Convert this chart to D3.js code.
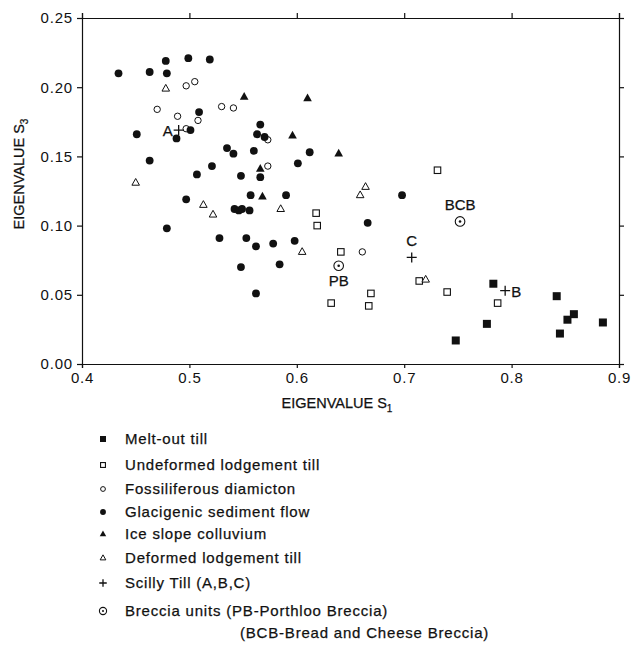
<!DOCTYPE html>
<html>
<head>
<meta charset="utf-8">
<script src="https://cdn.jsdelivr.net/npm/d3@7"></script>
<style>
  body { margin: 0; background: #fff; }
  svg { font-family: "Liberation Sans", Arial, sans-serif; }
  .axis path, .axis line { stroke: #111; stroke-width: 1.2; }
  .axis text { font-size: 15px; fill: #111; letter-spacing: 0.8px; }
  .lbl { fill: #111; stroke: #111; stroke-width: 0.25px; }
</style>
</head>
<body>
<div id="chart"></div>
<script>
// eigenvalue pairs [S1, S3]
var meltOut = [[0.783, 0.058], [0.777, 0.029], [0.748, 0.017], [0.842, 0.049],
  [0.845, 0.022], [0.852, 0.032], [0.858, 0.036], [0.885, 0.030]];

var undeformed = [[0.731, 0.140], [0.618, 0.109], [0.619, 0.100], [0.641, 0.081],
  [0.714, 0.060], [0.740, 0.052], [0.669, 0.051], [0.632, 0.044], [0.667, 0.042],
  [0.787, 0.044]];

var fossiliferous = [[0.470, 0.184], [0.497, 0.201], [0.505, 0.204], [0.489, 0.179],
  [0.508, 0.176], [0.497, 0.170], [0.530, 0.186], [0.541, 0.185], [0.573, 0.162],
  [0.573, 0.143], [0.661, 0.081]];

var glacigenic = [[0.434, 0.210], [0.463, 0.211], [0.478, 0.219], [0.479, 0.210],
  [0.499, 0.221], [0.519, 0.220], [0.509, 0.182], [0.501, 0.169], [0.488, 0.163],
  [0.451, 0.166], [0.463, 0.147], [0.566, 0.173], [0.563, 0.166], [0.570, 0.164],
  [0.535, 0.156], [0.541, 0.152], [0.560, 0.154], [0.521, 0.143], [0.507, 0.137],
  [0.548, 0.136], [0.566, 0.135], [0.612, 0.153], [0.601, 0.145], [0.497, 0.119],
  [0.479, 0.098], [0.542, 0.112], [0.546, 0.111], [0.549, 0.112], [0.556, 0.111],
  [0.557, 0.122], [0.528, 0.091], [0.553, 0.091], [0.562, 0.085], [0.548, 0.070],
  [0.562, 0.051], [0.590, 0.122], [0.698, 0.122], [0.666, 0.102], [0.578, 0.087],
  [0.598, 0.089], [0.584, 0.072]];

var iceSlope = [[0.551, 0.193], [0.566, 0.141], [0.610, 0.192], [0.596, 0.165],
  [0.639, 0.152], [0.568, 0.121]];

var deformed = [[0.478, 0.199], [0.450, 0.131], [0.513, 0.115], [0.522, 0.108],
  [0.664, 0.128], [0.659, 0.122], [0.585, 0.112], [0.605, 0.081], [0.720, 0.061]];

var scilly = [[0.490, 0.169], [0.794, 0.053], [0.707, 0.077]];
var scillyNames = ["A", "B", "C"];

var breccia = [[0.639, 0.071], [0.752, 0.103]];
var brecciaNames = ["PB", "BCB"];

var xTicks = [0.4, 0.5, 0.6, 0.7, 0.8, 0.9];
var yTicks = [0.00, 0.05, 0.10, 0.15, 0.20, 0.25];

var legendNames = ["Melt-out till", "Undeformed lodgement till", "Fossiliferous diamicton",
  "Glacigenic sediment flow", "Ice slope colluvium", "Deformed lodgement till",
  "Scilly Till (A,B,C)", "Breccia units  (PB-Porthloo Breccia)"];
var legendExtra = "(BCB-Bread and Cheese Breccia)";

var series = [
  { data: meltOut, sym: "fsquare" },
  { data: undeformed, sym: "osquare" },
  { data: fossiliferous, sym: "ocircle" },
  { data: glacigenic, sym: "fcircle" },
  { data: iceSlope, sym: "ftri" },
  { data: deformed, sym: "otri" },
  { data: scilly, sym: "plus" },
  { data: breccia, sym: "breccia" }
];

var W = 631, H = 645;
var margin = { top: 18, left: 82 },
    width = 537,
    height = 346;

var svg = d3.select("#chart").append("svg")
  .attr("width", W)
  .attr("height", H);

var g = svg.append("g")
  .attr("transform", "translate(" + margin.left + "," + margin.top + ")");

var x = d3.scaleLinear().domain([0.4, 0.9]).range([0, width]);
var y = d3.scaleLinear().domain([0, 0.25]).range([height, 0]);

// axes: ticks all point outward, labels only on left and bottom
g.append("g")
  .attr("class", "axis")
  .attr("transform", "translate(0," + height + ")")
  .call(d3.axisBottom(x).tickValues(xTicks).tickFormat(d3.format(".1f")).tickSize(4).tickPadding(4));

g.append("g")
  .attr("class", "axis")
  .call(d3.axisLeft(y).tickValues(yTicks).tickFormat(d3.format(".2f")).tickSize(5).tickPadding(4));

g.append("g")
  .attr("class", "axis")
  .call(d3.axisTop(x).tickValues(xTicks).tickFormat("").tickSize(5));

g.append("g")
  .attr("class", "axis")
  .attr("transform", "translate(" + width + ",0)")
  .call(d3.axisRight(y).tickValues(yTicks).tickFormat("").tickSize(5));

// axis titles
var xt = svg.append("text")
  .attr("class", "lbl")
  .attr("x", 337)
  .attr("y", 408)
  .attr("text-anchor", "middle")
  .style("font-size", "14.5px");
xt.append("tspan").text("EIGENVALUE  S");
xt.append("tspan").attr("dy", 4).style("font-size", "10px").text("1");

var yt = svg.append("text")
  .attr("class", "lbl")
  .attr("transform", "translate(24,174) rotate(-90)")
  .attr("text-anchor", "middle")
  .style("font-size", "14.5px");
yt.append("tspan").text("EIGENVALUE  S");
yt.append("tspan").attr("dy", 4).style("font-size", "10px").text("3");

// marker drawing
function marker(sel, sym, s) {
  var ink = "#111";
  if (sym === "fcircle") {
    sel.append("circle").attr("r", 3.9 * s).attr("fill", ink);
  } else if (sym === "ocircle") {
    sel.append("circle").attr("r", 3.2 * s).attr("fill", "#fff").attr("stroke", ink).attr("stroke-width", 1);
  } else if (sym === "fsquare") {
    var a = 8 * s;
    sel.append("rect").attr("x", -a / 2).attr("y", -a / 2).attr("width", a).attr("height", a).attr("fill", ink);
  } else if (sym === "osquare") {
    var b = 6.5 * s;
    sel.append("rect").attr("x", -b / 2).attr("y", -b / 2).attr("width", b).attr("height", b)
      .attr("fill", "#fff").attr("stroke", ink).attr("stroke-width", 1.1);
  } else if (sym === "ftri") {
    var t = 4.8 * s;
    sel.append("path").attr("d", "M0," + (-t) + "L" + (t * 0.9) + "," + (t * 0.6) + "L" + (-t * 0.9) + "," + (t * 0.6) + "Z")
      .attr("fill", ink);
  } else if (sym === "otri") {
    var u = 4.2 * s;
    sel.append("path").attr("d", "M0," + (-u) + "L" + (u * 0.9) + "," + (u * 0.6) + "L" + (-u * 0.9) + "," + (u * 0.6) + "Z")
      .attr("fill", "#fff").attr("stroke", ink).attr("stroke-width", 1);
  } else if (sym === "plus") {
    var p = 5 * s;
    sel.append("path").attr("d", "M" + (-p) + ",0H" + p + "M0," + (-p) + "V" + p)
      .attr("stroke", ink).attr("stroke-width", 1.3);
  } else if (sym === "breccia") {
    sel.append("circle").attr("r", 4.8 * s).attr("fill", "#fff").attr("stroke", ink).attr("stroke-width", 1.1);
    sel.append("circle").attr("r", 1.3 * s).attr("fill", ink);
  }
}

// points
series.forEach(function(sr) {
  g.selectAll(null)
    .data(sr.data)
    .enter().append("g")
    .attr("transform", function(d) { return "translate(" + x(d[0]) + "," + y(d[1]) + ")"; })
    .each(function() { marker(d3.select(this), sr.sym, 1); });
});

// point labels
var labelPos = {
  A: { dx: -6, dy: 6, anchor: "end" },
  B: { dx: 6, dy: 6, anchor: "start" },
  C: { dx: 0, dy: -11, anchor: "middle" },
  PB: { dx: 0, dy: 20, anchor: "middle" },
  BCB: { dx: 0, dy: -11, anchor: "middle" }
};

function addLabels(pts, names) {
  g.selectAll(null)
    .data(pts)
    .enter().append("text")
    .attr("class", "lbl")
    .attr("x", function(d, i) { return x(d[0]) + labelPos[names[i]].dx; })
    .attr("y", function(d, i) { return y(d[1]) + labelPos[names[i]].dy; })
    .attr("text-anchor", function(d, i) { return labelPos[names[i]].anchor; })
    .style("font-size", "15px")
    .text(function(d, i) { return names[i]; });
}
addLabels(scilly, scillyNames);
addLabels(breccia, brecciaNames);

// legend
var legendY = [439, 465, 489, 512, 534, 558, 583, 611];
var leg = svg.append("g");
legendNames.forEach(function(name, i) {
  var row = leg.append("g").attr("transform", "translate(0," + legendY[i] + ")");
  var m = row.append("g").attr("transform", "translate(103,0)");
  marker(m, series[i].sym, 0.75);
  row.append("text")
    .attr("class", "lbl")
    .attr("x", 125)
    .attr("y", 5)
    .style("font-size", "15px")
    .style("letter-spacing", "0.8px")
    .text(name);
});
leg.append("text")
  .attr("class", "lbl")
  .attr("x", 240)
  .attr("y", 638)
  .style("font-size", "15px")
  .style("letter-spacing", "0.8px")
  .text(legendExtra);
</script>
</body>
</html>
